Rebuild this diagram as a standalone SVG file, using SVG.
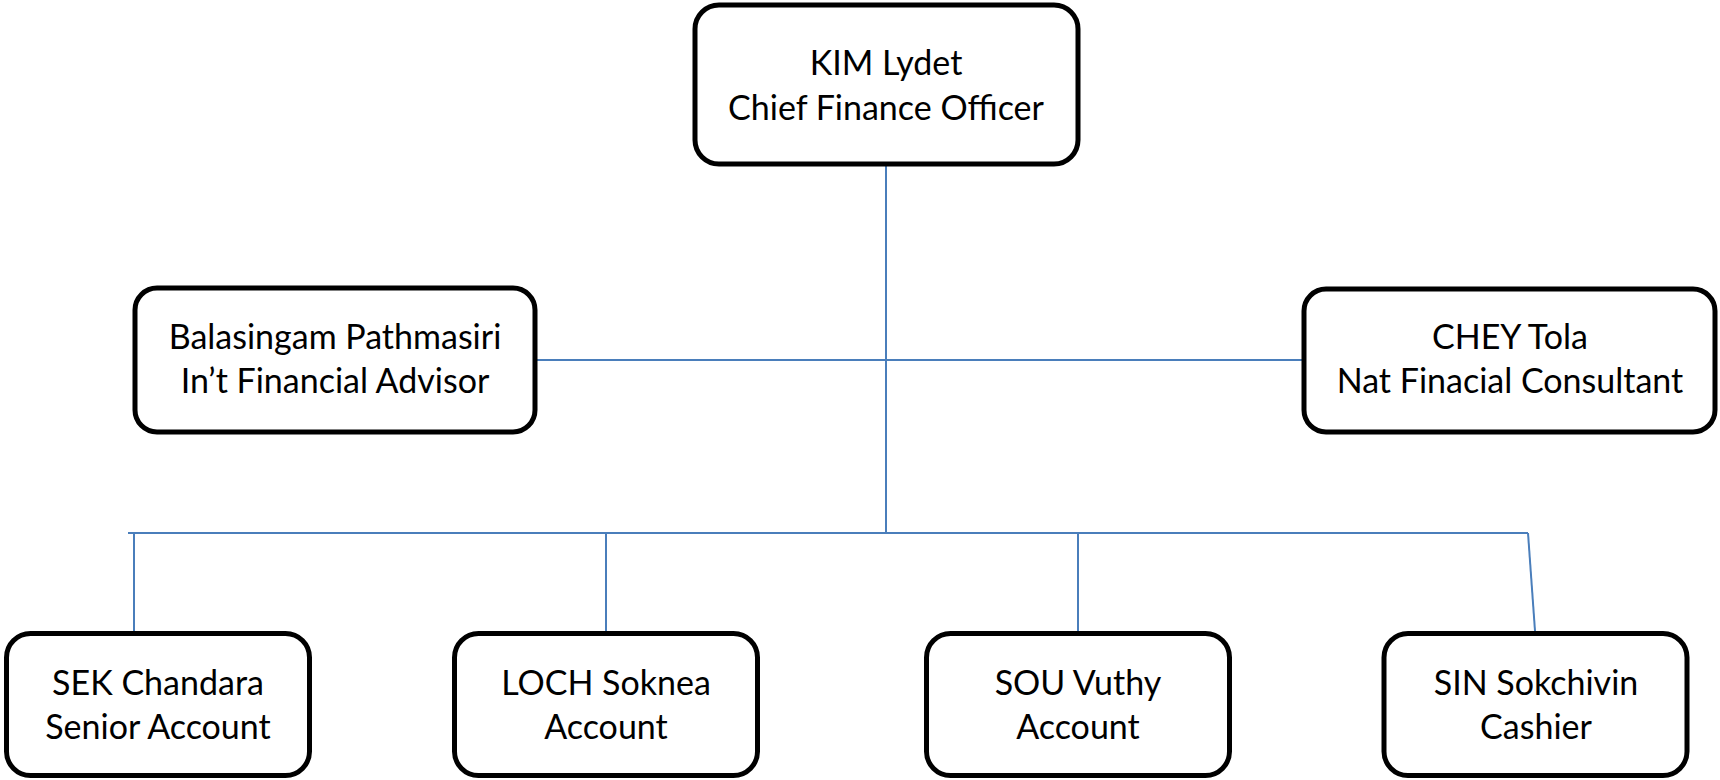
<svg xmlns="http://www.w3.org/2000/svg" width="1720" height="780" viewBox="0 0 1720 780">
<style>
.box{fill:#fff;stroke:#000;stroke-width:5}
.t{font-family:Lato,"Open Sans",sans-serif;font-size:34px;fill:#000;text-anchor:middle}
.c{stroke:#4a7ebb;stroke-width:2;fill:none}
</style>
<rect width="1720" height="780" fill="#fff"/>
<g id="connectors">
<line class="c" x1="886" y1="166" x2="886" y2="533"/>
<line class="c" x1="537" y1="360" x2="1302" y2="360"/>
<line class="c" x1="128" y1="533" x2="1528" y2="533"/>
<line class="c" x1="134" y1="533" x2="134" y2="631"/>
<line class="c" x1="606" y1="533" x2="606" y2="631"/>
<line class="c" x1="1078" y1="533" x2="1078" y2="631"/>
<line class="c" x1="1528" y1="533" x2="1535" y2="631"/>
</g>
<g id="cfo">
<rect class="box" x="695" y="5" width="383" height="159" rx="24"/>
<text class="t" x="886" y="75">KIM Lydet</text>
<text class="t" x="886" y="120">Chief Finance Officer</text>
</g>
<g id="advisor">
<rect class="box" x="135" y="288" width="400" height="144" rx="22"/>
<text class="t" x="335" y="349">Balasingam Pathmasiri</text>
<text class="t" x="335" y="393">In’t Financial Advisor</text>
</g>
<g id="consultant">
<rect class="box" x="1304" y="289" width="411" height="143" rx="22"/>
<text class="t" x="1510" y="349">CHEY Tola</text>
<text class="t" x="1510" y="393">Nat Finacial Consultant</text>
</g>
<g id="sek">
<rect class="box" x="6.5" y="633.5" width="303" height="142" rx="24"/>
<text class="t" x="158" y="695">SEK Chandara</text>
<text class="t" x="158" y="739">Senior Account</text>
</g>
<g id="loch">
<rect class="box" x="454.5" y="633.5" width="303" height="142" rx="24"/>
<text class="t" x="606" y="695">LOCH Soknea</text>
<text class="t" x="606" y="739">Account</text>
</g>
<g id="sou">
<rect class="box" x="926.5" y="633.5" width="303" height="142" rx="24"/>
<text class="t" x="1078" y="695">SOU Vuthy</text>
<text class="t" x="1078" y="739">Account</text>
</g>
<g id="sin">
<rect class="box" x="1384" y="633.5" width="303" height="142" rx="24"/>
<text class="t" x="1536" y="695">SIN Sokchivin</text>
<text class="t" x="1536" y="739">Cashier</text>
</g>
</svg>
